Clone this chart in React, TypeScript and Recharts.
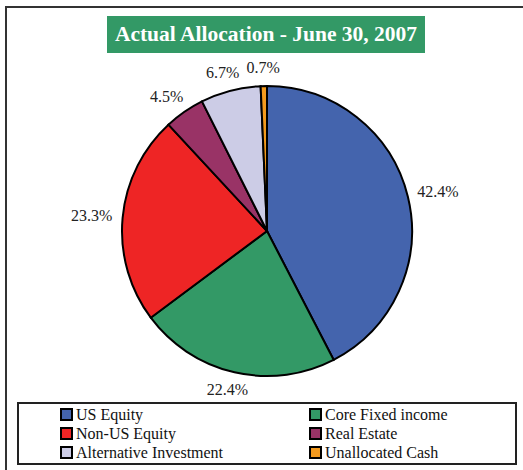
import React from 'react';
import { PieChart, Pie, Cell, Legend } from 'recharts';

const categories = ['US Equity', 'Core Fixed income', 'Non-US Equity', 'Real Estate', 'Alternative Investment', 'Unallocated Cash'];
const allocation = [42.4, 22.4, 23.3, 4.5, 6.7, 0.7];
const colors = ['#4464AD', '#339966', '#EE2525', '#993366', '#CCCCE6', '#F39A1E'];

const data = categories.map((name, i) => ({ name, value: allocation[i] }));

const serif = '"Liberation Serif", "Times New Roman", serif';
const RAD = Math.PI / 180;

// label sits just outside the slice edge, pushed out by half the text size
const renderLabel = (props: any) => {
  const { cx, cy, midAngle, outerRadius, value } = props;
  const cos = Math.cos(-midAngle * RAD);
  const sin = Math.sin(-midAngle * RAD);
  const r = outerRadius + 10;
  const x = cx + r * cos + cos * 21;
  const y = cy + r * sin + sin * 8 + 5;
  return (
    <text x={x} y={y} textAnchor="middle" fontFamily={serif} fontSize={16} fill="#222">
      {value.toFixed(1)}%
    </text>
  );
};

const LegendBox = ({ payload }: any) => {
  // keep the data order (row by row), not alphabetical
  const items = [...(payload || [])].sort(
    (a: any, b: any) => categories.indexOf(a.value) - categories.indexOf(b.value)
  );
  return (
    <div
      style={{
        display: 'grid',
        gridTemplateColumns: '249px 200px',
        rowGap: 2,
        paddingLeft: 43,
        paddingTop: 4,
        fontFamily: serif,
        fontSize: 16,
        color: '#111',
        lineHeight: '17px',
      }}
    >
      {items.map((p: any) => (
        <div key={p.value} style={{ display: 'flex', alignItems: 'center' }}>
          <span
            style={{
              display: 'inline-block',
              width: 9,
              height: 9,
              background: p.color,
              border: '2px solid #000',
              marginRight: 3,
            }}
          />
          {p.value}
        </div>
      ))}
    </div>
  );
};

export default function App() {
  return (
    <div style={{ position: 'absolute', left: 0, top: 0, width: 523, height: 470, overflow: 'hidden', background: '#fff' }}>
      <div
        style={{
          position: 'absolute',
          left: 5,
          top: 6,
          width: 540,
          height: 490,
          border: '2px solid #333',
        }}
      />
      <div
        style={{
          position: 'absolute',
          left: 107,
          top: 16,
          width: 318,
          height: 37,
          background: '#339966',
          color: '#fff',
          fontFamily: serif,
          fontWeight: 'bold',
          fontSize: 21.5,
          lineHeight: '37px',
          textAlign: 'center',
        }}
      >
        Actual Allocation - June 30, 2007
      </div>
      <div
        style={{
          position: 'absolute',
          left: 17,
          top: 402,
          width: 496,
          height: 59,
          border: '2px solid #222',
        }}
      />
      <div style={{ position: 'absolute', left: 0, top: 0 }}>
        <PieChart width={523} height={470}>
          <Pie
            data={data}
            dataKey="value"
            nameKey="name"
            cx={262}
            cy={226}
            outerRadius={145}
            startAngle={90}
            endAngle={-270}
            stroke="#000"
            strokeWidth={2}
            label={renderLabel}
            labelLine={false}
            isAnimationActive={false}
          >
            {data.map((d, i) => (
              <Cell key={d.name} fill={colors[i]} />
            ))}
          </Pie>
          <Legend
            content={<LegendBox />}
            wrapperStyle={{ position: 'absolute', left: 17, top: 402, width: 498, height: 61, bottom: 'auto' }}
          />
        </PieChart>
      </div>
    </div>
  );
}
